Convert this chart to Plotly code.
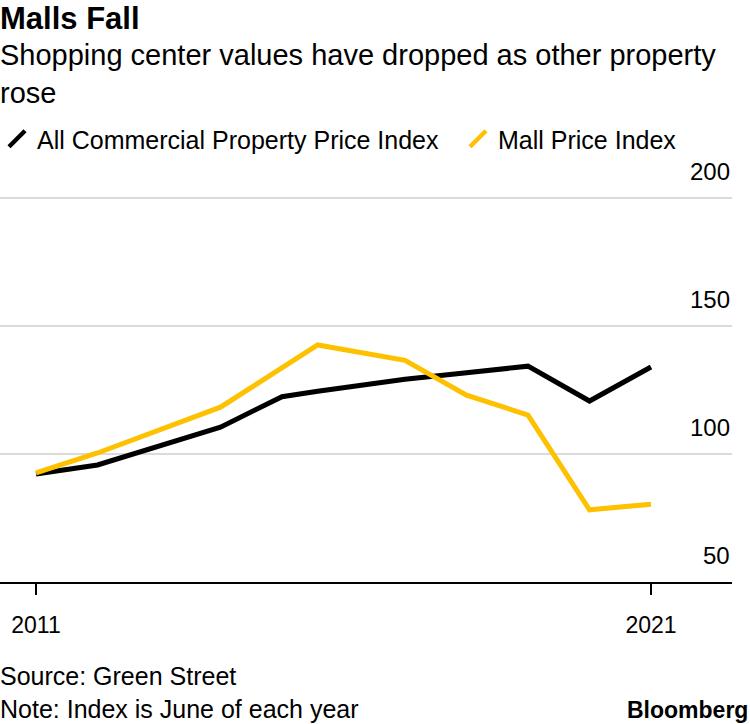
import plotly.graph_objects as go

# ---- data ----
years = [2011, 2012, 2014, 2015, 2015.58, 2017, 2018, 2019, 2020, 2021]
all_commercial = [92.2, 95.7, 110.5, 122.4, 124.5, 129.2, 131.7, 134.3, 120.7, 134.0]
mall_index = [92.6, 100.4, 118.3, 133.9, 142.6, 136.6, 123.0, 115.2, 78.2, 80.4]
series_names = ["All Commercial Property Price Index", "Mall Price Index"]
x_tick_vals = [2011, 2021]
x_tick_text = ["2011", "2021"]
y_tick_vals = [50, 100, 150, 200]
y_tick_text = ["50", "100", "150", "200"]

title_text = "Malls Fall"
subtitle_text = "Shopping center values have dropped as other property<br>rose"
footer_text = "Source: Green Street<br>Note: Index is June of each year"

BLACK = "#000000"
YELLOW = "#fdc100"
FONT = "Liberation Sans, Arial, sans-serif"

W, H = 750, 724
M_T, M_B, M_L, M_R = 195, 142, 0, 18
PLOT_W = W - M_L - M_R
PLOT_H = H - M_T - M_B
Y_MIN = 50
Y_MAX = Y_MIN + PLOT_H / 2.56


def py(px_from_top):
    """convert pixel row to paper y"""
    return (H - M_B - px_from_top) / PLOT_H


def px(px_from_left):
    return (px_from_left - M_L) / PLOT_W


fig = go.Figure()
fig.add_trace(go.Scatter(x=years, y=all_commercial, mode="lines",
                         line=dict(color=BLACK, width=5), showlegend=False,
                         name=series_names[0]))
fig.add_trace(go.Scatter(x=years, y=mall_index, mode="lines",
                         line=dict(color=YELLOW, width=5), showlegend=False,
                         name=series_names[1]))
# legend entries with slanted stroke icons (one legend per entry for exact placement)
for nm, col, lg in zip(series_names, [BLACK, YELLOW], ["legend", "legend2"]):
    fig.add_trace(go.Scatter(x=[None], y=[None], mode="markers", name=nm, legend=lg,
                             marker=dict(symbol="line-ne", size=16,
                                         line=dict(color=col, width=4.5))))

annotations = [
    dict(text="<b>" + title_text + "</b>", x=px(-2), y=py(18), xref="paper", yref="paper",
         xanchor="left", yanchor="middle", showarrow=False, font=dict(size=31)),
    dict(text=subtitle_text, x=px(-2), y=py(73.5), xref="paper", yref="paper",
         xanchor="left", yanchor="middle", showarrow=False, align="left",
         font=dict(size=29)),
    dict(text=footer_text, x=px(-2), y=py(692), xref="paper", yref="paper",
         xanchor="left", yanchor="middle", showarrow=False, align="left",
         font=dict(size=25)),
    dict(text="<b>Bloomberg</b>", x=px(750), y=py(710), xref="paper",
         yref="paper", xanchor="right", yanchor="middle", showarrow=False,
         font=dict(size=23)),
]
# y-axis labels sitting above their grid lines, right aligned
for v, t in zip(y_tick_vals, y_tick_text):
    annotations.append(dict(text=t, x=1, y=v, xref="paper", yref="y", xanchor="right",
                            yanchor="middle", yshift=26.5, showarrow=False,
                            font=dict(size=24, color=BLACK)))

legend_common = dict(orientation="h", xanchor="left", yanchor="middle", y=py(139),
                     font=dict(size=25), bgcolor="rgba(0,0,0,0)", borderwidth=0,
                     itemclick=False, itemdoubleclick=False)

fig.update_layout(
    width=W, height=H,
    margin=dict(t=M_T, b=M_B, l=M_L, r=M_R, pad=0, autoexpand=False),
    paper_bgcolor="white", plot_bgcolor="white",
    font=dict(family=FONT, size=24, color="black"),
    showlegend=True,
    legend=dict(x=px(-3), **legend_common),
    legend2=dict(x=px(458), **legend_common),
    xaxis=dict(range=[2010.4146, 2022.317], tickvals=x_tick_vals, ticktext=x_tick_text,
               showgrid=False, zeroline=False, showline=True, linecolor=BLACK, linewidth=2,
               ticks="outside", ticklen=11, tickwidth=2, tickcolor=BLACK,
               ticklabelstandoff=10, tickfont=dict(size=23, color=BLACK), automargin=False),
    yaxis=dict(range=[Y_MIN, Y_MAX], tickvals=y_tick_vals, showticklabels=False,
               showgrid=True, gridcolor="#dadada", gridwidth=2, zeroline=False,
               showline=False, ticks="", automargin=False),
    annotations=annotations,
)

fig.write_html("out.html", config={"displayModeBar": False},
               post_script="document.body.style.margin='0';")
